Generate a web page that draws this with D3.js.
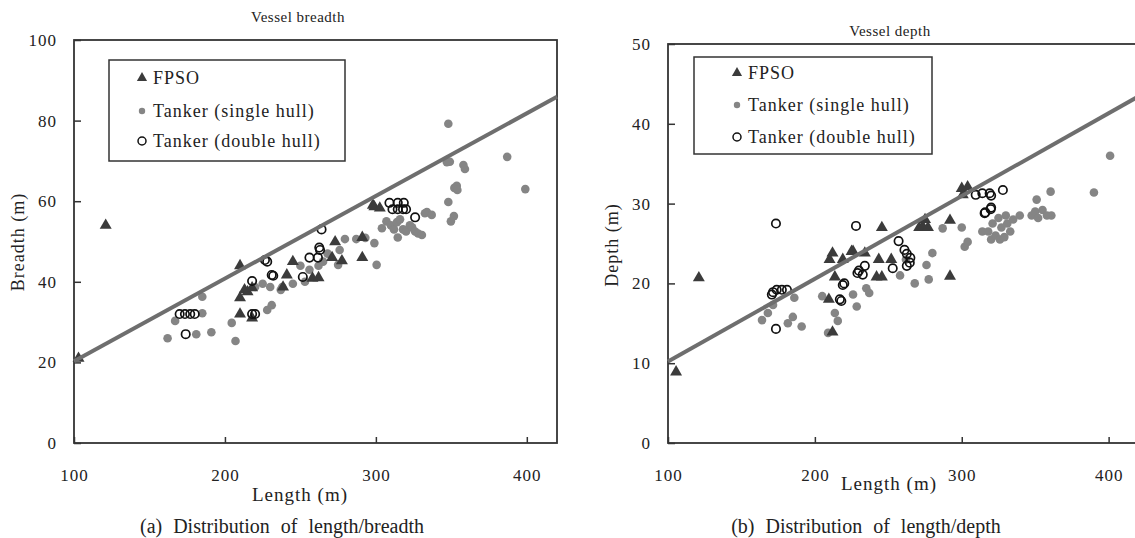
<!DOCTYPE html>
<html>
<head>
<meta charset="utf-8">
<script src="https://cdn.jsdelivr.net/npm/d3@7"></script>
<style>
  body { margin: 0; background: #fff; }
  svg text { font-family: "Liberation Serif", "DejaVu Serif", serif; fill: #222; }
</style>
</head>
<body>
<div id="chart-area"></div>
<script>
// ---- data: [length (m), value] ----
const fpsoBreadth = [[103,21],[121,54],[210,44],[210,36],[210,32],[213,38],[215,37.5],[218,38.5],[218,31],
  [238.5,38.7],[241,41.7],[245,45],[258,40.9],[262,41],[271,46],[273,49.9],[277.5,45.2],[291,51],[291,46],
  [298,59],[299,58.6],[302.6,58.3]]
const singleBreadth = [[162,26],[167,30.3],[181,27],[185,32.2],[185,36.3],[191,27.5],[204.5,29.8],[207,25.3],
  [220,38.7],[225,39.5],[228,33],[230,38.7],[231,34.2],[237,38],[238,38.7],[245,39.5],[250,44],[253,40],
  [256,43],[262,44],[265,45],[268,47],[275,44.2],[276,47.9],[279.5,50.6],[287,50.6],[293,50.9],[299,49.6],
  [300.5,44.2],[304,53.3],[307,55],[310,54],[312,53],[314,54.8],[314.5,51],[316,55.5],[318,53],[320,52.5],
  [322.5,54],[324,53.5],[326,52.5],[328,52],[330.5,51.6],[332.5,57],[333.8,57.3],[337,56.6],[347,69.7],
  [349,69.8],[348,79.2],[358,69],[359,68],[352,63.3],[353.6,63.8],[354,62.8],[348,59.8],[349.7,55],
  [351.7,56.3],[387,71],[399,63]]
const doubleBreadth = [[170,32],[173.5,32],[177,32],[180,32],[174,27],[218,40.2],[218,32],[220,32],
  [226.5,45.4],[228,45],[231,41.7],[232,41.5],[251.6,41.2],[256,46],[261.6,46],[263,47.9],[262.5,48.5],
  [264,53],[309,59.6],[314.5,59.6],[318.5,59.6],[311,58],[314.5,58],[318,58],[320,58],[326,56]]

const fpsoDepth = [[105.5,8.9],[121,20.7],[209.5,18],[212,13.9],[213.6,20.8],[212,23.8],[210,23],[219,23],
  [225,24],[226,24],[234,23.8],[243.5,23],[245.6,27],[242,20.8],[245.6,20.8],[252,23],[271,27],[273.5,27.1],
  [277,27],[275,28],[292,27.9],[292,20.9],[300,31.9],[304,32.1],[300.7,31.1]]
const singleDepth = [[164,15.4],[168,16.3],[171.5,17.3],[181.6,15],[185,15.8],[186,18.2],[191,14.6],
  [205,18.4],[209,13.8],[213.6,16.3],[215.6,15.3],[226,18.6],[228.5,17.1],[235,19.4],[237,18.8],[258,21],
  [262,23],[268,20],[276,22.3],[277.5,20.5],[280,23.8],[287,26.9],[300,27],[302,24.6],[304,25.2],[314,26.5],
  [318,26.5],[320,25.5],[321,27.5],[323,26],[325,28.2],[326,25.5],[327,27],[329,25.8],[330,28.5],[331,27.5],
  [333,26.5],[335,28],[339.5,28.5],[347.6,28.5],[350,29],[352,28.2],[355,29.2],[358,28.5],[361,28.5],
  [351,30.5],[360.5,31.5],[390,31.4],[401,36]]
const doubleDepth = [[170.7,18.6],[171.5,18.9],[174,19.2],[177.5,19.2],[181,19.2],[173.5,14.3],[173.5,27.5],
  [217,18],[218,17.8],[219,19.8],[220,20],[228,27.2],[229,21.3],[230,21.6],[232.6,21.1],[234,22.2],[253,21.9],
  [257,25.3],[261,24.2],[262.6,23.7],[265,23.2],[264.6,22.6],[262.6,22.2],[309.5,31.1],[314,31.3],[319,31.3],
  [320,31],[328,31.7],[319.7,29.3],[316,28.9],[320,29.5],[315.6,28.8]]

// trend lines, [length, value] at ends
const breadthFit = [[100,20.3],[420,85.9]]
const depthFit = [[100,10.2],[420,43.4]]

const xTicks = [100,200,300,400]
const breadthTicks = [0,20,40,60,80,100]
const depthTicks = [0,10,20,30,40,50]
const legendLabels = ["FPSO","Tanker (single hull)","Tanker (double hull)"]

const svg = d3.select("#chart-area").append("svg")
  .attr("width", 1135).attr("height", 538)

const triangle = d3.symbol().type(d3.symbolTriangle)

function drawPanel(p) {
  const x = d3.scaleLinear().domain([100,420]).range(p.xr)
  const y = d3.scaleLinear().domain(p.yd).range(p.yr)
  const g = svg.append("g")

  // frame
  g.append("rect")
    .attr("x", x(100)).attr("y", y(p.yd[1]))
    .attr("width", x(420)-x(100)).attr("height", y(0)-y(p.yd[1]))
    .attr("fill", "none").attr("stroke", "#333").attr("stroke-width", 1.8)

  const xa = g.append("g").attr("transform", `translate(0,${y(0)})`)
    .call(d3.axisBottom(x).tickValues(xTicks).tickSizeInner(-6).tickSizeOuter(0).tickPadding(26))
  const ya = g.append("g").attr("transform", `translate(${x(100)},0)`)
    .call(d3.axisLeft(y).tickValues(p.ticks).tickSizeInner(-7).tickSizeOuter(0).tickPadding(17))
  ;[xa, ya].forEach(a => {
    a.select(".domain").remove()
    a.selectAll("line").attr("stroke", "#333").attr("stroke-width", 1.5)
    a.selectAll("text").attr("font-family", "Liberation Serif").attr("font-size", 17)
      .attr("fill", "#222").style("letter-spacing", "1px")
  })

  // points
  g.append("g").selectAll("circle").data(p.single).join("circle")
    .attr("cx", d => x(d[0])).attr("cy", d => y(d[1])).attr("r", 4.3)
    .attr("fill", "#858585")
  g.append("g").selectAll("path").data(p.fpso).join("path")
    .attr("d", triangle.size(62))
    .attr("transform", d => `translate(${x(d[0])},${y(d[1])})`)
    .attr("fill", "#3b3b3b")
  g.append("g").selectAll("circle").data(p.dbl).join("circle")
    .attr("cx", d => x(d[0])).attr("cy", d => y(d[1])).attr("r", 4.2)
    .attr("fill", "none").attr("stroke", "#111").attr("stroke-width", 1.7)

  // fitted line
  g.append("path").datum(p.fit)
    .attr("d", d3.line().x(d => x(d[0])).y(d => y(d[1])))
    .attr("stroke", "#6e6e6e").attr("stroke-width", 4).attr("fill", "none")

  // legend
  const lg = g.append("g").attr("transform", `translate(${p.leg[0]},${p.leg[1]})`)
  lg.append("rect").attr("width", p.leg[2]).attr("height", p.leg[3])
    .attr("fill", "#fff").attr("stroke", "#333").attr("stroke-width", 1.5)
  legendLabels.forEach((t, i) => {
    const cy = p.legY[i], mx = p.legX
    if (i === 0) lg.append("path").attr("d", triangle.size(45)).attr("transform", `translate(${mx},${cy})`).attr("fill", "#3b3b3b")
    if (i === 1) lg.append("circle").attr("cx", mx).attr("cy", cy).attr("r", 3.2).attr("fill", "#858585")
    if (i === 2) lg.append("circle").attr("cx", mx).attr("cy", cy).attr("r", 4).attr("fill", "none").attr("stroke", "#111").attr("stroke-width", 1.5)
    lg.append("text").attr("x", mx + 11).attr("y", cy + 6).attr("font-size", 18)
      .style("letter-spacing", "1px").text(t)
  })

  // titles and labels
  g.append("text").attr("x", p.title[0]).attr("y", p.title[1]).attr("text-anchor", "middle")
    .attr("font-size", 15).style("letter-spacing", "0.5px").text(p.title[2])
  g.append("text").attr("x", p.xl[0]).attr("y", p.xl[1]).attr("text-anchor", "middle")
    .attr("font-size", 19).style("letter-spacing", "1px").text("Length (m)")
  g.append("text").attr("transform", `translate(${p.yl[0]},${p.yl[1]}) rotate(-90)`).attr("text-anchor", "middle")
    .attr("font-size", 18).style("letter-spacing", "1px").text(p.yl[2])
  g.append("text").attr("x", p.cap[0]).attr("y", 533).attr("text-anchor", "middle")
    .attr("font-size", 20).style("word-spacing", "6px").text(p.cap[1])
}

drawPanel({
  xr: [74, 557], yd: [0,100], yr: [443, 40], ticks: breadthTicks,
  single: singleBreadth, fpso: fpsoBreadth, dbl: doubleBreadth, fit: breadthFit,
  leg: [109, 60, 236, 101], legX: 33, legY: [18, 51, 81],
  title: [298, 22, "Vessel breadth"], xl: [300, 501], yl: [24, 242, "Breadth (m)"],
  cap: [282, "(a) Distribution of length/breadth"]
})
drawPanel({
  xr: [668, 1138], yd: [0,50], yr: [443, 44], ticks: depthTicks,
  single: singleDepth, fpso: fpsoDepth, dbl: doubleDepth, fit: depthFit,
  leg: [694, 57, 238, 97], legX: 43, legY: [16, 48, 80],
  title: [890, 36, "Vessel depth"], xl: [889, 490], yl: [618, 245, "Depth (m)"],
  cap: [866, "(b) Distribution of length/depth"]
})
</script>
</body>
</html>
